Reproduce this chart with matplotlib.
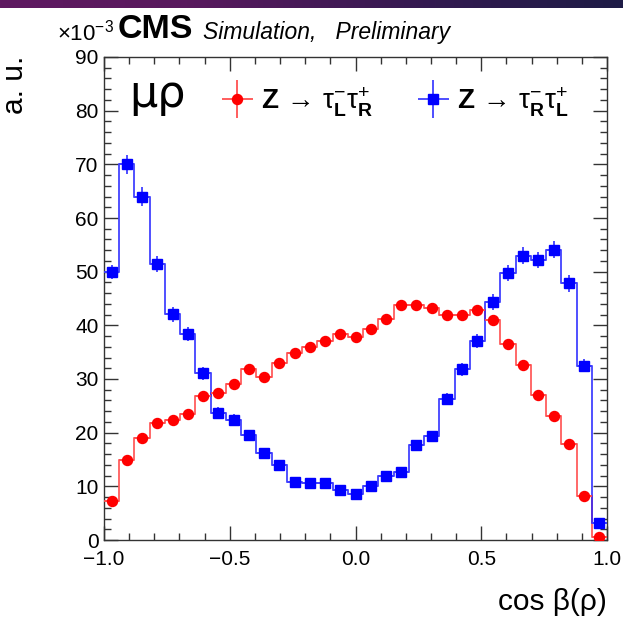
import numpy as np
import matplotlib
matplotlib.use("Agg")
import matplotlib.pyplot as plt
from matplotlib.ticker import MultipleLocator, FuncFormatter
from matplotlib.legend_handler import HandlerErrorbar
from matplotlib.colors import LinearSegmentedColormap

plt.rcParams['font.family'] = ['Liberation Sans', 'DejaVu Sans']
plt.rcParams['mathtext.fontset'] = 'custom'
plt.rcParams['mathtext.rm'] = 'Liberation Sans'
plt.rcParams['mathtext.bf'] = 'Liberation Sans:bold'
plt.rcParams['mathtext.it'] = 'Liberation Sans:italic'
plt.rcParams['axes.unicode_minus'] = True

# ---------------- data (units of 1e-3) ----------------
n_bins = 33
x_range = (-1.0, 1.0)
red_values = [7.3, 14.9, 19.0, 21.8, 22.4, 23.5, 26.8, 27.4, 29.0, 31.8, 30.3,
              32.9, 34.9, 35.9, 37.0, 38.3, 37.9, 39.3, 41.1, 43.8, 43.8, 43.3,
              42.0, 42.0, 42.8, 41.0, 36.6, 32.7, 27.0, 23.1, 17.8, 8.2, 0.6]
red_errors = [0.3, 0.4, 0.45, 0.5, 0.5, 0.5, 0.55, 0.55, 0.55, 0.6, 0.55,
              0.6, 0.6, 0.6, 0.6, 0.6, 0.6, 0.65, 0.65, 0.65, 0.65, 0.65,
              0.65, 0.65, 0.65, 0.65, 0.6, 0.6, 0.5, 0.5, 0.45, 0.3, 0.1]
blue_values = [50.0, 70.0, 64.0, 51.4, 42.1, 38.4, 31.1, 23.7, 22.4, 19.6, 16.3,
               13.9, 10.8, 10.7, 10.7, 9.4, 8.6, 10.1, 11.9, 12.6, 17.7, 19.3,
               26.2, 31.8, 37.1, 44.4, 49.7, 53.0, 52.2, 54.1, 47.8, 32.5, 3.1]
blue_errors = [1.3, 1.8, 1.7, 1.55, 1.4, 1.35, 1.2, 1.05, 1.0, 0.95, 0.85,
               0.8, 0.7, 0.7, 0.7, 0.65, 0.65, 0.7, 0.75, 0.75, 0.9, 0.95,
               1.1, 1.2, 1.3, 1.45, 1.5, 1.55, 1.55, 1.6, 1.5, 1.2, 0.6]
red_label = r'$\mathbf{Z}\,\rightarrow\,\mathrm{\tau}^{-}_{\mathbf{L}}\mathrm{\tau}^{+}_{\mathbf{R}}$'
blue_label = r'$\mathbf{Z}\,\rightarrow\,\mathrm{\tau}^{-}_{\mathbf{R}}\mathrm{\tau}^{+}_{\mathbf{L}}$'
channel_label = 'μρ'
x_title = 'cos β(ρ)'
y_title = 'a. u.'

# ---------------- figure ----------------
W, H = 623, 625
fig = plt.figure(figsize=(W / 100, H / 100), dpi=100)

# top purple banner
bar = fig.add_axes([0, 1 - 8 / H, 1, 8 / H])
cmap = LinearSegmentedColormap.from_list(
    'banner', [(0.0, '#5f1961'), (0.3, '#59195e'), (0.7, '#321a50'), (1.0, '#1e1c46')])
bar.imshow(np.linspace(0, 1, 256)[None, :], aspect='auto', cmap=cmap)
bar.set_axis_off()

ax = fig.add_axes([104 / W, 85 / H, 503 / W, 483 / H])

edges = np.linspace(x_range[0], x_range[1], n_bins + 1)
centers = 0.5 * (edges[:-1] + edges[1:])
half_w = 0.5 * (edges[1] - edges[0])

red = '#ff0000'
blue = '#0000ff'

ax.stairs(red_values, edges, baseline=None, color='#ff4040', lw=1.1, zorder=2)
ax.stairs(blue_values, edges, baseline=None, color='#2020ff', lw=1.1, zorder=2)

er = ax.errorbar(centers, red_values, yerr=red_errors, xerr=half_w, fmt='o',
                 color=red, ms=7.2, ecolor='#ff5050', elinewidth=1.3, capsize=0, zorder=3)
eb = ax.errorbar(centers, blue_values, yerr=blue_errors, xerr=half_w, fmt='s',
                 color=blue, ms=6.6, ecolor='#4040ff', elinewidth=1.3, capsize=0, zorder=3)

ax.set_xlim(*x_range)
ax.set_ylim(0, 90)
ax.xaxis.set_major_locator(MultipleLocator(0.5))
ax.xaxis.set_minor_locator(MultipleLocator(0.1))
ax.yaxis.set_major_locator(MultipleLocator(10))
ax.yaxis.set_minor_locator(MultipleLocator(2))
ax.xaxis.set_major_formatter(FuncFormatter(lambda v, p: f'{v:.1f}'.replace('-', '\u2212')))
ax.tick_params(which='both', direction='in', top=True, right=True, color='#333333',
               labelsize=15, width=1)
ax.tick_params(which='major', length=10)
ax.tick_params(axis='x', which='major', pad=7.5)
ax.tick_params(axis='y', which='major', pad=4)
ax.tick_params(which='minor', length=5)
for s in ax.spines.values():
    s.set_color('#333333')
    s.set_linewidth(1)

ax.set_xlabel(x_title, fontsize=21.5, loc='right')
ax.xaxis.set_label_coords(1.0, -0.1)
ax.set_ylabel(y_title, fontsize=21.5, loc='top')
ax.yaxis.set_label_coords(-0.15, 1.002)

ax.text(0.05, 0.896, channel_label, transform=ax.transAxes, fontsize=32,
        family='DejaVu Sans', va='baseline', ha='left')

leg = ax.legend([er, eb], [red_label, blue_label], ncol=2, frameon=False,
                loc='center left', bbox_to_anchor=(0.234, 0.907), fontsize=20,
                borderpad=0, borderaxespad=0, handlelength=1.12, handletextpad=0.28,
                columnspacing=1.62,
                handler_map={type(er): HandlerErrorbar(xerr_size=0.56, yerr_size=0.68)})

fig.text(57 / W, 1 - 41 / H, r'$\times$10$^{-3}$', fontsize=16, va='baseline', ha='left')
fig.text(118 / W, 1 - 38 / H, 'CMS', fontsize=24.5, fontweight='bold', va='baseline', ha='left')
fig.text(203 / W, 1 - 39 / H, 'Simulation,   Preliminary', fontsize=16.5, style='italic',
         va='baseline', ha='left')

fig.savefig('out.png', dpi=100)
